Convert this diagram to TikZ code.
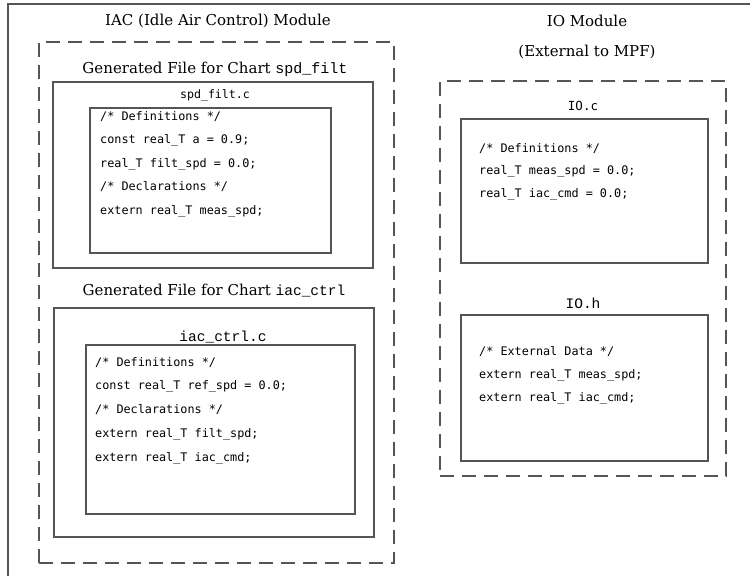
\documentclass[tikz,border=0pt]{standalone}
\usepackage{fontspec}
\setmainfont{DejaVu Serif}
\setmonofont{DejaVu Sans Mono}
\newfontfamily\couriermono{Liberation Mono}
\usepackage{xcolor}
\usetikzlibrary{positioning}
\definecolor{lineGray}{RGB}{85,85,85}

\begin{document}
\begin{tikzpicture}[x=1pt, y=-1pt,
        filebox/.style={draw=lineGray, line width=1.5pt, anchor=north west, inner sep=0pt},
        groupbox/.style={filebox, dash pattern=on 14pt off 8pt},
        heading/.style={font=\fontsize{15}{20}\selectfont, text=black, inner sep=0pt},
        fname/.style={font=\fontsize{11.6}{14}\selectfont\ttfamily, text=black, inner sep=0pt},
        cname/.style={font=\couriermono\fontsize{14.5}{16}\selectfont, text=black, inner sep=0pt},
        code/.style={font=\fontsize{11.8}{23.5}\selectfont\ttfamily, text=black, align=left,
                     anchor=north west, inner sep=0pt}
    ]
        \useasboundingbox (0,0) rectangle (750,576);
        \draw[lineGray, line width=1.5pt] (8,576) -- (8,4) -- (750,4);

        % IAC module
        \node[heading] (iactitle) at (218,21) {IAC (Idle Air Control) Module};
        \node[groupbox, minimum width=355pt, minimum height=521pt] (iacmod) at (38,41) {};

        \node[heading] (spdtitle) at (215,69) {Generated File for Chart {\couriermono\fontsize{15}{16}\selectfont spd\_filt}};
        \node[filebox, minimum width=320pt, minimum height=186pt] (spdfile) at (52,81) {};
        \node[fname] (spdname) at (215,95) {spd\_filt.c};
        \node[filebox, minimum width=241pt, minimum height=145pt] (spdcode) at (89,107) {};
        \node[code] (spdtext) at (100,111) {/* Definitions */\\
            const real\_T a = 0.9;\\
            real\_T filt\_spd = 0.0;\\
            /* Declarations */\\
            extern real\_T meas\_spd;};

        \node[heading] (ctrltitle) at (214,291) {Generated File for Chart {\couriermono\fontsize{14.5}{16}\selectfont iac\_ctrl}};
        \node[filebox, minimum width=320pt, minimum height=229pt] (ctrlfile) at (53,307) {};
        \node[cname] (ctrlname) at (223,337) {iac\_ctrl.c};
        \node[filebox, minimum width=269pt, minimum height=169pt] (ctrlcode) at (85,344) {};
        \node[code, font=\fontsize{11.8}{23.8}\selectfont\ttfamily] (ctrltext) at (95,357) {/* Definitions */\\
            const real\_T ref\_spd = 0.0;\\
            /* Declarations */\\
            extern real\_T filt\_spd;\\
            extern real\_T iac\_cmd;};

        % IO module
        \node[heading] (iotitle) at (587,21) {IO Module};
        \node[heading] (iosub) at (587,52) {(External to MPF)};
        \node[groupbox, minimum width=286pt, minimum height=395pt] (iomod) at (439,80) {};

        \node[fname, font=\fontsize{12.5}{14}\selectfont\ttfamily] (ioc) at (583,106) {IO.c};
        \node[filebox, minimum width=247pt, minimum height=144pt] (ioccode) at (460,118) {};
        \node[code, font=\fontsize{11.8}{22.5}\selectfont\ttfamily] (ioctext) at (479,143) {/* Definitions */\\
            real\_T meas\_spd = 0.0;\\
            real\_T iac\_cmd = 0.0;};

        \node[cname] (ioh) at (583,303) {IO.h};
        \node[filebox, minimum width=247pt, minimum height=146pt] (iohcode) at (460,314) {};
        \node[code, font=\fontsize{11.8}{23}\selectfont\ttfamily] (iohtext) at (479,346) {/* External Data */\\
            extern real\_T meas\_spd;\\
            extern real\_T iac\_cmd;};
    \end{tikzpicture}
\end{document}
